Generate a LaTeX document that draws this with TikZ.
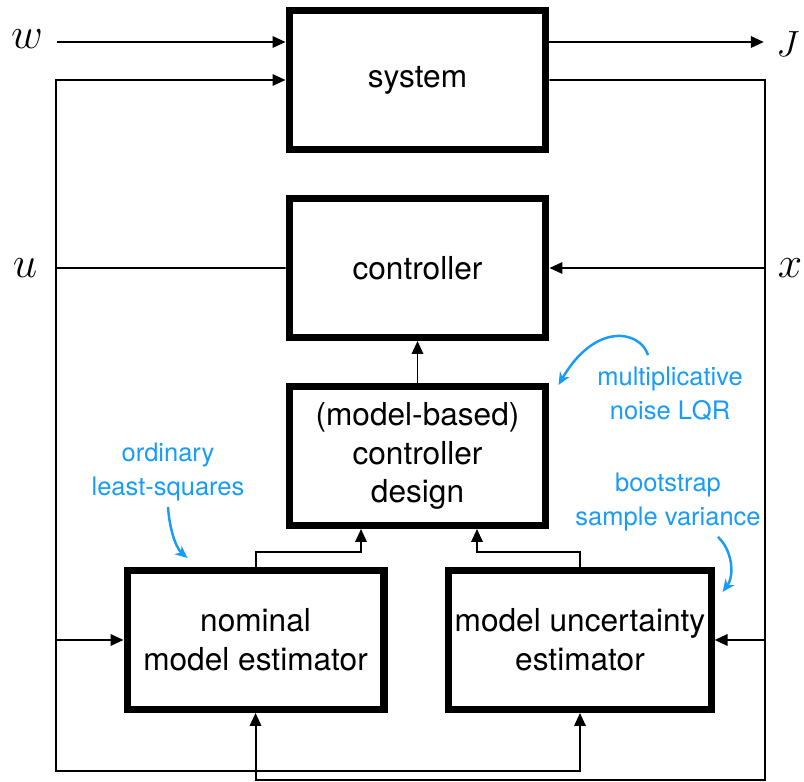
\documentclass[tikz,border=0pt]{standalone}
\usepackage{fontspec}
\setmainfont{TeX Gyre Heros}
\usepackage{tikz}
\usetikzlibrary{arrows.meta, positioning}
\definecolor{noteblue}{RGB}{25,155,250}

\begin{document}
\begin{tikzpicture}[
    x=0.02cm, y=-0.02cm,
    node distance=0.84cm and 0.5cm,
    block/.style={rectangle, draw, line width=4pt, minimum width=5.14cm, minimum height=2.78cm, align=center, font=\fontsize{18}{22}\selectfont},
    arrow/.style={-{Triangle[length=0.26cm, width=0.23cm]}, line width=1.1pt},
    wire/.style={line width=1.1pt},
    signal/.style={font=\fontsize{25}{28}\selectfont, inner sep=2pt},
    note/.style={align=center, text=noteblue, font=\fontsize{14.5}{19}\selectfont},
    notearrow/.style={-{Stealth[length=0.25cm, width=0.22cm]}, noteblue, line width=1.4pt}
]
\useasboundingbox (0,0) rectangle (804,781);

% Blocks
\node[block] (sys) at (417.5,80) {system};
\node[block, below=of sys] (ctrl) {controller};
\node[block, below=of ctrl] (design) {(model-based)\\controller\\design};
\node[block, below=0.76cm of design, xshift=-3.24cm] (nom) {nominal\\model estimator};
\node[block, below=0.76cm of design, xshift=3.25cm] (unc) {model uncertainty\\estimator};

% Signals
\node[signal] (w) at (27,39) {$w$};
\node[signal, font=\fontsize{20}{24}\selectfont, inner sep=7pt] (J) at (788,44) {$J$};
\node[signal] (u) at (25,268) {$u$};
\node[signal] (x) at (790,268) {$x$};

% Bus corners
\coordinate (lft) at (56,268);
\coordinate (rgt) at (765,268);
\coordinate (ubot) at (56,771);
\coordinate (xbot) at (765,780);

% Plant in/out
\draw[arrow] ([xshift=6pt]w.east |- 0,42) -- (sys.west |- 0,42);
\draw[arrow] (sys.east |- 0,42) -- (J.west |- 0,42);

% Control loop
\draw[arrow] (ctrl.west) -- (lft) |- (sys.west);
\draw[arrow] (sys.east) -| (rgt) -- (ctrl.east);
\draw[arrow] (design) -- (ctrl);

% Data to estimators
\draw[arrow] (lft) -- (ubot) -| (unc.south);
\draw[arrow] (rgt) -- (xbot) -| (nom.south);
\draw[arrow] (lft |- nom.west) -- (nom.west);
\draw[arrow] (rgt |- unc.east) -- (unc.east);

% Estimates to design
\draw[arrow] (nom.north) -- ++(0,-15) -| ([xshift=-1.13cm]design.south);
\draw[arrow] (unc.north) -- ++(0,-15) -| ([xshift=1.19cm]design.south);

% Notes
\node[note] (lqr) at (670,394) {multiplicative\\noise LQR};
\node[note] (boot) at (668,502) {bootstrap\\sample variance};
\node[note] (ols) at (168,472) {ordinary\\least-squares};

\draw[notearrow] ([xshift=-0.44cm, yshift=0.12cm]lqr.north) .. controls (640,330) and (595,322) .. ([xshift=0.18cm, yshift=-0.04cm]design.north east);
\draw[notearrow] ([xshift=1cm]boot.south) .. controls (732,550) and (735,575) .. ([xshift=0.16cm, yshift=-0.5cm]unc.north east);
\draw[notearrow] (ols.south) .. controls (170,535) and (178,550) .. ([xshift=1.28cm, yshift=0.18cm]nom.north west);

\end{tikzpicture}
\end{document}
